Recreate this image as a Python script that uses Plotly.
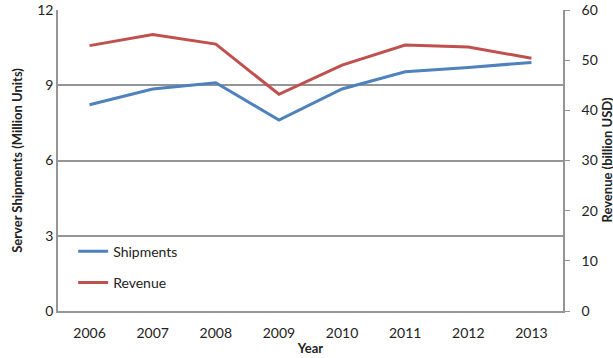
import plotly.graph_objects as go

years = ["2006", "2007", "2008", "2009", "2010", "2011", "2012", "2013"]
shipments = [8.22, 8.85, 9.10, 7.61, 8.85, 9.54, 9.71, 9.91]      # million units
revenue = [52.9, 55.1, 53.2, 43.2, 49.0, 53.0, 52.6, 50.4]        # billion USD

BLUE = "#4F81BD"
RED = "#C0504D"
GRID = "#959595"
FONT = "Lato"

fig = go.Figure()
fig.add_trace(go.Scatter(x=years, y=shipments, name="Shipments", mode="lines",
                         line=dict(color=BLUE, width=3), legendgroup="a"))
fig.add_trace(go.Scatter(x=years, y=revenue, name="Revenue", mode="lines",
                         line=dict(color=RED, width=3), legendgroup="b", yaxis="y2"))

fig.update_layout(
    width=613, height=358,
    margin=dict(l=58, r=50, t=10, b=47),
    paper_bgcolor="white", plot_bgcolor="white",
    font=dict(family=FONT, size=14, color="#222"),
    showlegend=True,
    legend=dict(x=0.03, y=0.25, xanchor="left", yanchor="top",
                bgcolor="rgba(0,0,0,0)", tracegroupgap=10,
                font=dict(family=FONT, size=14, color="#222")),
    xaxis=dict(type="category", range=[-0.5, 7.5], showgrid=False,
               showline=True, linecolor=GRID, linewidth=1.5, ticks="",
               tickfont=dict(size=14), automargin=False, ticklabelstandoff=8,
               title=dict(text="<b>Year</b>", font=dict(size=13), standoff=4)),
    yaxis=dict(range=[0, 12], tickvals=[0, 3, 6, 9, 12], showgrid=True,
               gridcolor=GRID, gridwidth=1.5, showline=True, linecolor=GRID,
               linewidth=1.5, ticks="", zeroline=False, tickfont=dict(size=14),
               automargin=False,
               title=dict(text="<b>Server Shipments (Million Units)</b>",
                          font=dict(size=13), standoff=12)),
    yaxis2=dict(range=[0, 60], tickvals=[0, 10, 20, 30, 40, 50, 60],
                overlaying="y", side="right", showgrid=False, showline=True,
                linecolor=GRID, linewidth=1.5, ticks="outside", ticklen=5,
                tickcolor=GRID, zeroline=False, tickfont=dict(size=14),
                automargin=False, ticklabelstandoff=9),
    annotations=[dict(text="<b>Revenue (billion USD)</b>", textangle=-90,
                      xref="paper", yref="paper", x=1, y=0.5,
                      xanchor="center", yanchor="middle", xshift=43,
                      showarrow=False, font=dict(family=FONT, size=13, color="#222"))],
)

fig.write_html("out.html")
